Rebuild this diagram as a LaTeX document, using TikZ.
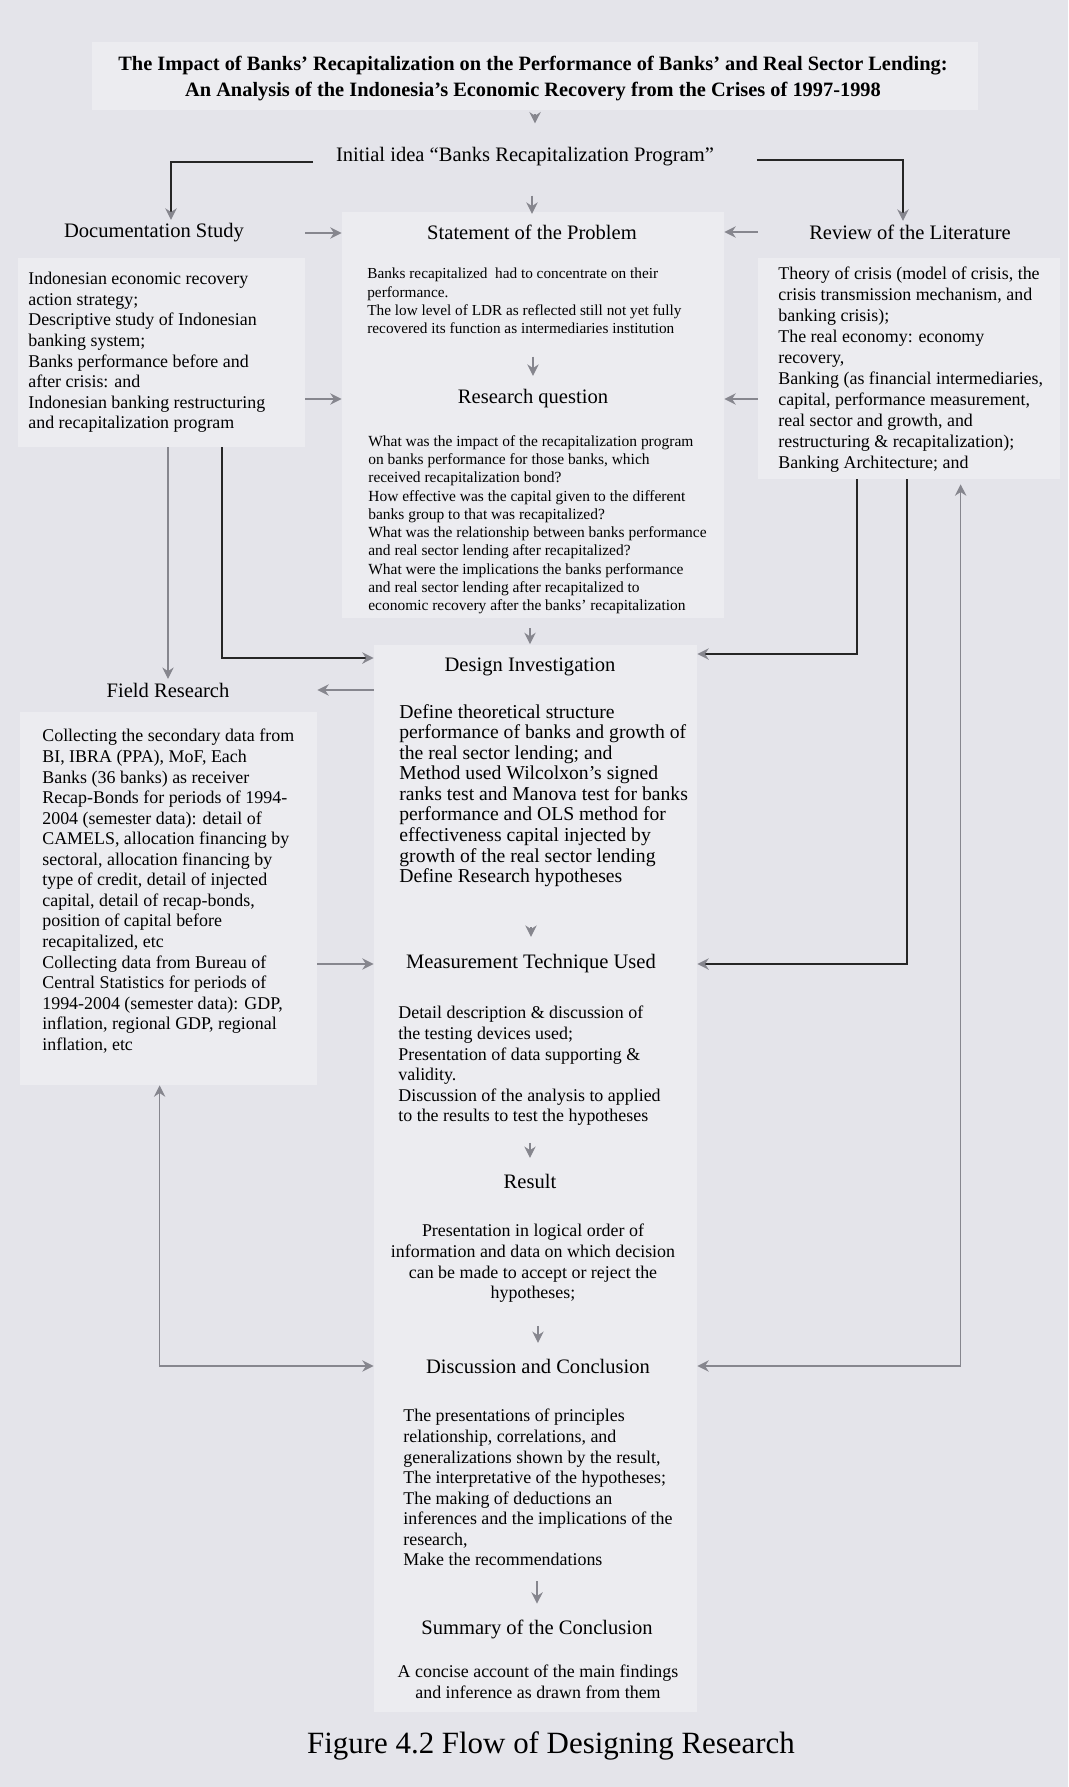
\documentclass[tikz,border=0pt]{standalone}
\usepackage{fontspec}
\setmainfont{Liberation Serif}
\usetikzlibrary{shapes,arrows,arrows.meta,positioning,calc,backgrounds,fit}

\definecolor{paper}{HTML}{E4E4EA}
\definecolor{panelc}{HTML}{ECECF0}
\definecolor{linegray}{HTML}{86868E}

\begin{document}
\begin{tikzpicture}[x=0.02cm, y=-0.02cm]
  % Estilos
  \tikzstyle{panel}=[inner sep=0, fill=panelc, draw=none]
  \tikzstyle{headtxt}=[font=\fontsize{11.7}{13.5}\selectfont, inner sep=2pt]
  \tikzstyle{bodytxt}=[anchor=north west, align=left, inner sep=0, font=\fontsize{10.2}{11.7}\selectfont]
  \tikzstyle{smalltxt}=[anchor=north west, align=left, inner sep=0, font=\fontsize{8.7}{10.3}\selectfont]
  \tikzstyle{flow}=[-{Stealth[length=6.5pt,width=6.5pt]}, linegray, line width=0.7pt]
  \tikzstyle{flowdark}=[-{Stealth[length=6.5pt,width=6.5pt,color=linegray]}, black!85, line width=1.1pt]
  \tikzstyle{loop}=[{Stealth[length=6.5pt,width=6.5pt]}-{Stealth[length=6.5pt,width=6.5pt]}, linegray, line width=0.7pt]

  % Fondo
  \fill[paper] (0,0) rectangle (1068,1787);
  \useasboundingbox (0,0) rectangle (1068,1787);

  % Paneles claros
  \node[panel, fit={(92,42) (978,110)}] (titleP) {};
  \node[panel, fit={(18,258) (305,447)}] (docP) {};
  \node[panel, fit={(342,212) (724,618)}] (stmtP) {};
  \node[panel, fit={(758,258) (1060,479)}] (reviewP) {};
  \node[panel, fit={(20,712) (317,1085)}] (fieldP) {};
  \node[panel, fit={(374,645) (697,1712)}] (midP) {};

  % Titulo e idea inicial
  \node[align=center, font=\bfseries\fontsize{11.6}{14.8}\selectfont] (title) at (533,79)
    {The Impact of Banks’ Recapitalization on the Performance of Banks’ and Real Sector Lending:\\
     An Analysis of the Indonesia’s Economic Recovery from the Crises of 1997-1998};
  \node[font=\fontsize{11.7}{13.5}\selectfont, inner xsep=0.45cm] (init) at (525,157)
    {Initial idea “Banks Recapitalization Program”};

  % Encabezados
  \node[headtxt] (docS) at (154,233) {Documentation Study};
  \node[headtxt] (stmt) at (532,232) {Statement of the Problem};
  \node[headtxt] (review) at (910,232) {Review of the Literature};
  \node[headtxt] (rq) at (533,399) {Research question};
  \node[headtxt] (design) at (530,667) {Design Investigation};
  \node[headtxt] (field) at (168,690) {Field Research};
  \node[headtxt] (meas) at (531,964) {Measurement Technique Used};
  \node[headtxt] (result) at (530,1181) {Result};
  \node[headtxt] (disc) at (538,1366) {Discussion and Conclusion};
  \node[headtxt] (summ) at (537,1629) {Summary of the Conclusion};

  % Textos
  \node[bodytxt] (doctxt) at (28,272)
    {Indonesian economic recovery\\ action strategy;\\ Descriptive study of Indonesian\\
     banking system;\\ Banks performance before and\\ after crisis: and\\
     Indonesian banking restructuring\\ and recapitalization program};
  \node[smalltxt] (stmttxt) at (367,268)
    {Banks recapitalized \ had to concentrate on their\\ performance.\\
     The low level of LDR as reflected still not yet fully\\
     recovered its function as intermediaries institution};
  \node[bodytxt, font=\fontsize{10.2}{11.9}\selectfont] (reviewtxt) at (778,267)
    {Theory of crisis (model of crisis, the\\ crisis transmission mechanism, and\\
     banking crisis);\\ The real economy: economy\\ recovery,\\
     Banking (as financial intermediaries,\\ capital, performance measurement,\\
     real sector and growth, and\\ restructuring \& recapitalization);\\
     Banking Architecture; and};
  \node[smalltxt, font=\fontsize{8.8}{10.4}\selectfont] (rqtxt) at (368,435)
    {What was the impact of the recapitalization program\\
     on banks performance for those banks, which\\ received recapitalization bond?\\
     How effective was the capital given to the different\\
     banks group to that was recapitalized?\\
     What was the relationship between banks performance\\
     and real sector lending after recapitalized?\\
     What were the implications the banks performance\\
     and real sector lending after recapitalized to\\
     economic recovery after the banks’ recapitalization};
  \node[bodytxt, font=\fontsize{11.2}{11.7}\selectfont] (designtxt) at (399,704)
    {Define theoretical structure\\ performance of banks and growth of\\
     the real sector lending; and\\ Method used Wilcolxon’s signed\\
     ranks test and Manova test for banks\\ performance and OLS method for\\
     effectiveness capital injected by\\ growth of the real sector lending\\
     Define Research hypotheses};
  \node[bodytxt] (fieldtxt) at (42,729)
    {Collecting the secondary data from\\ BI, IBRA (PPA), MoF, Each\\
     Banks (36 banks) as receiver\\ Recap-Bonds for periods of 1994-\\
     2004 (semester data): detail of\\ CAMELS, allocation financing by\\
     sectoral, allocation financing by\\ type of credit, detail of injected\\
     capital, detail of recap-bonds,\\ position of capital before\\
     recapitalized, etc\\ Collecting data from Bureau of\\
     Central Statistics for periods of\\ 1994-2004 (semester data): GDP,\\
     inflation, regional GDP, regional\\ inflation, etc};
  \node[bodytxt] (meastxt) at (398,1006)
    {Detail description \& discussion of\\ the testing devices used;\\
     Presentation of data supporting \&\\ validity.\\
     Discussion of the analysis to applied\\ to the results to test the hypotheses};
  \node[bodytxt, anchor=north, align=center] (resulttxt) at (533,1224)
    {Presentation in logical order of\\ information and data on which decision\\
     can be made to accept or reject the\\ hypotheses;};
  \node[bodytxt] (disctxt) at (403,1409)
    {The presentations of principles\\ relationship, correlations, and\\
     generalizations shown by the result,\\ The interpretative of the hypotheses;\\
     The making of deductions an\\ inferences and the implications of the\\
     research,\\ Make the recommendations};
  \node[bodytxt, anchor=north, align=center] (summtxt) at (538,1665)
    {A concise account of the main findings\\ and inference as drawn from them};

  % Leyenda de la figura
  \node[font=\fontsize{17.6}{20}\selectfont] (caption) at (551,1746) {Figure 4.2 Flow of Designing Research};

  % Flechas principales
  \draw[flow, shorten <=0.08cm, shorten >=0.36cm] (titleP.south) -- (titleP.south |- init.north);
  \draw[flowdark] ([yshift=-0.1cm]init.west) -| ($(docS.north)+(17,0)$);
  \draw[flowdark] ([xshift=0.4cm,yshift=-0.06cm]init.east) -| ($(review.north)+(-7,0)$);
  \draw[flow, shorten <=0.46cm, shorten >=0.14cm] (stmt |- init.south) -- (stmt.north);
  \draw[flow] (docS.east -| docP.east) -- (docS.east -| stmtP.west);
  \draw[flow] (review.west -| reviewP.west) -- (review.west -| stmtP.east);
  \draw[flow, shorten <=0.46cm, shorten >=0.2cm] (rq |- stmttxt.south) -- (rq.north);
  \draw[flow] (rq.west -| docP.east) -- (rq.west -| stmtP.west);
  \draw[flow] (rq.east -| reviewP.west) -- (rq.east -| stmtP.east);
  \draw[flow, shorten <=0.28cm, shorten >=0.2cm] (design |- rqtxt.south) -- (design.north);

  % Documentacion hacia campo y diseno
  \draw[flow] (field |- docP.south) -- (field.north);
  \draw[flowdark] ($(docP.south west)+(204,0)$) |- ([yshift=0.18cm]design.west -| midP.west);
  \draw[flow] (field.east -| midP.west) -- (field.east -| fieldP.east);

  % Revision de literatura hacia diseno y medicion
  \draw[flowdark] ($(reviewP.south west)+(99,0)$) |- ([yshift=0.26cm]design.east -| midP.east);
  \draw[flowdark] ($(reviewP.south west)+(149,0)$) |- (meas.east -| midP.east);

  % Columna central
  \draw[flow, shorten <=0.8cm, shorten >=0.28cm] (meas |- designtxt.south) -- (meas.north);
  \draw[flow] (meas.west -| fieldP.east) -- (meas.west -| midP.west);
  \draw[flow, shorten <=0.34cm, shorten >=0.24cm] (result |- meastxt.south) -- (result.north);
  \draw[flow, shorten <=0.46cm, shorten >=0.24cm] (disc |- resulttxt.south) -- (disc.north);
  \draw[flow, shorten <=0.3cm, shorten >=0.24cm] (summ |- disctxt.south) -- (summ.north);

  % Retroalimentacion
  \draw[loop] ($(fieldP.south west)+(140,0)$) |- (disc.west -| midP.west);
  \draw[loop] ($(reviewP.south west)+(203,5)$) |- (disc.east -| midP.east);
\end{tikzpicture}
\end{document}
